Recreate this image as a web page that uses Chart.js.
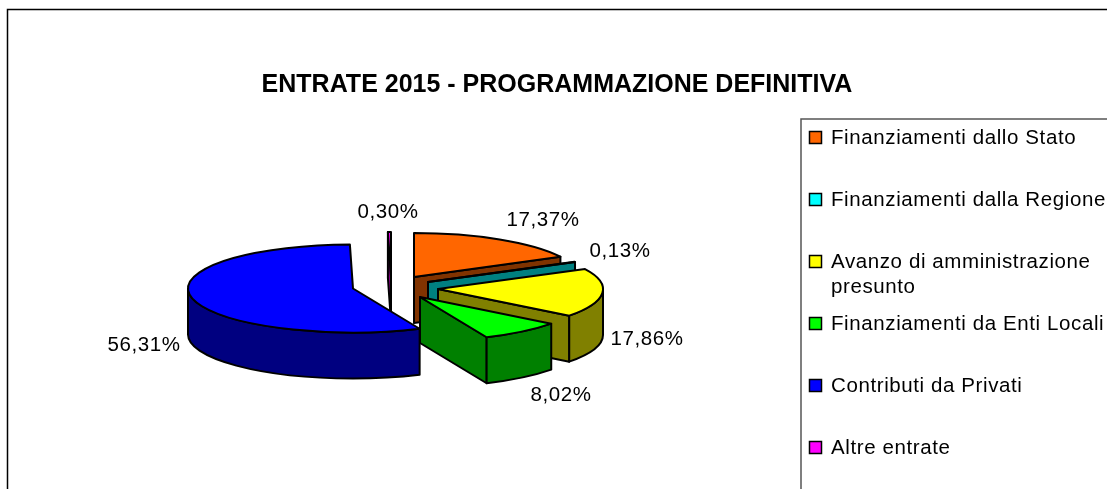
<!DOCTYPE html>
<html><head><meta charset="utf-8">
<style>html,body{margin:0;padding:0;background:#fff;overflow:hidden}canvas{display:block}</style>
<script src="https://cdn.jsdelivr.net/npm/chart.js@4/dist/chart.umd.min.js"></script>
</head><body><canvas id="c" width="1107" height="489"></canvas>
<script>
const chartTitle = 'ENTRATE 2015 - PROGRAMMAZIONE DEFINITIVA';
const categories = ['Finanziamenti dallo Stato','Finanziamenti dalla Regione',['Avanzo di amministrazione','presunto'],'Finanziamenti da Enti Locali','Contributi da Privati','Altre entrate'];
const values = [17.37,0.13,17.86,8.02,56.31,0.30];

const topColors  = ['#FF6600','#00FFFF','#FFFF00','#00FF00','#0000FF','#FF00FF'];
const wallColors = ['#803300','#008080','#808000','#008000','#000080','#800080'];
// exploded slice displacement from the pie centre [dx,dy]
const explode = [[26,-11],[40,-6],[50,1],[32,9],[-35,0.5],[3,-12]];
const drawOrder = [0,5,1,2,3,4];
const pieRadius = 165, flatten = 44/165, depth = 46;
const valueLabelPos = [[543,220],[620,251],[647,339],[561,395],[144,345],[388,212]];
const legendLayout = {boxX:801,boxY:119,swatchX:809,swatch:13,textX:831,firstY:138,step:62,lineH:25.5};
const FONT = '"Liberation Sans", Arial, sans-serif';

const pie3d = {
  id:'pie3d',
  beforeDraw(chart){
    const c = chart.ctx; c.save();
    c.fillStyle='#fff'; c.fillRect(0,0,chart.width,chart.height);
    c.strokeStyle='#000'; c.lineWidth=1.5;
    c.beginPath(); c.moveTo(7.5,500); c.lineTo(7.5,9.5); c.lineTo(1120,9.5); c.stroke();
    c.strokeStyle='#555';
    const L=legendLayout;
    c.beginPath(); c.moveTo(L.boxX,500); c.lineTo(L.boxX,L.boxY); c.lineTo(1120,L.boxY); c.stroke();
    c.restore();
  },
  afterLayout(chart){
    chart.titleBlock.left=0; chart.titleBlock.right=1114;
  },
  beforeDatasetDraw(chart,args){
    const c = chart.ctx, arcs = chart.getDatasetMeta(args.index).data;
    c.save(); c.lineWidth=2; c.strokeStyle='#000'; c.lineJoin='round';
    drawOrder.forEach(i=>{
      const el=arcs[i], a=el.startAngle, b=el.endAngle, rx=el.outerRadius, ry=rx*flatten;
      const cx=el.x+explode[i][0], cy=el.y+explode[i][1];
      const P=t=>[cx+rx*Math.cos(t),cy+ry*Math.sin(t)];
      c.fillStyle=wallColors[i];
      // cut faces that look toward the viewer
      [[a,Math.cos(a)<-1e-3],[b,Math.cos(b)>1e-3]].forEach(([t,vis])=>{
        if(!vis) return;
        const p=P(t);
        c.beginPath(); c.moveTo(cx,cy); c.lineTo(p[0],p[1]); c.lineTo(p[0],p[1]+depth); c.lineTo(cx,cy+depth); c.closePath();
        c.fill(); c.stroke();
      });
      // rim
      const lo=Math.max(a,0), hi=Math.min(b,Math.PI);
      if(hi>lo){
        c.beginPath(); c.ellipse(cx,cy,rx,ry,0,lo,hi);
        c.ellipse(cx,cy+depth,rx,ry,0,hi,lo,true); c.closePath();
        c.fill(); c.stroke();
      }
      // top face
      c.fillStyle=el.options.backgroundColor;
      c.beginPath(); c.moveTo(cx,cy); c.ellipse(cx,cy,rx,ry,0,a,b); c.closePath();
      c.fill(); c.stroke();
    });
    c.restore();
    return false;
  },
  afterDraw(chart){
    const c=chart.ctx, L=legendLayout, ds=chart.data.datasets[0];
    c.save(); c.font='20.5px '+FONT; c.letterSpacing='0.6px'; c.fillStyle='#000'; c.textBaseline='middle'; c.textAlign='center';
    ds.data.forEach((v,i)=>{
      c.fillText(v.toFixed(2).replace('.',',')+'%',valueLabelPos[i][0],valueLabelPos[i][1]);
    });
    c.textAlign='left';
    chart.data.labels.forEach((lab,i)=>{
      const y=L.firstY+i*L.step;
      c.fillStyle=ds.backgroundColor[i]; c.strokeStyle='#000'; c.lineWidth=1.5;
      c.fillRect(L.swatchX+.5,y-6.5,L.swatch-1,L.swatch-1); c.strokeRect(L.swatchX+.5,y-6.5,L.swatch-1,L.swatch-1);
      c.fillStyle='#000';
      [].concat(lab).forEach((t,k)=>c.fillText(t,L.textX,y+k*L.lineH));
    });
    c.restore();
  }
};

new Chart(document.getElementById('c'),{
  type:'pie',
  data:{labels:categories,datasets:[{data:values,backgroundColor:topColors,borderColor:'#000',borderWidth:0,radius:pieRadius}]},
  options:{
    responsive:false,animation:false,
    layout:{padding:{left:0,top:0,right:331,bottom:13}},
    plugins:{
      legend:{display:false},tooltip:{enabled:false},
      title:{display:true,text:chartTitle,color:'#000',font:{family:FONT,size:25,weight:'bold',lineHeight:1.2},padding:{top:70,bottom:0}}
    }
  },
  plugins:[pie3d]
});
</script></body></html>
